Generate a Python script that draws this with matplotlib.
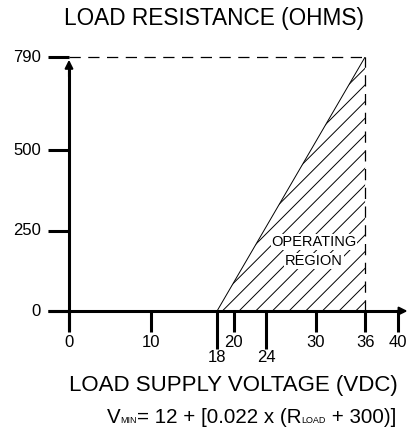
import matplotlib
matplotlib.use("Agg")
import matplotlib.pyplot as plt
from matplotlib.patches import Polygon

plt.rcParams['font.family'] = ['Liberation Sans', 'DejaVu Sans']
plt.rcParams['hatch.linewidth'] = 0.7

# data
v_min = 18
v_max = 36
r_max = 790
x_ticks = [0, 10, 20, 30, 36, 40]
x_ticks_low = [18, 24]
y_ticks = [0, 250, 500, 790]
formula_parts = [('V', False), ('MIN', True), ('= 12 + [0.022 x (R', False),
                 ('LOAD', True), (' + 300)]', False)]

fig = plt.figure(figsize=(4.12, 4.29), dpi=100)
ax = fig.add_axes([69 / 412, 118 / 429, 329 / 412, 254 / 429])
ax.set_xlim(0, 40)
ax.set_ylim(0, r_max)
ax.axis('off')

# operating region
region = Polygon([(v_min, 0), (v_max, r_max), (v_max, 0)], closed=True,
                 facecolor='none', edgecolor='black', hatch='//', linewidth=0)
ax.add_patch(region)
ax.plot([v_min, v_max], [0, r_max], color='black', lw=0.7)

# dashed limits
ax.plot([0, v_max], [r_max, r_max], color='black', lw=0.9, dashes=(9, 6), clip_on=False)
ax.plot([v_max, v_max], [0, r_max], color='black', lw=0.9, dashes=(9, 6), clip_on=False)

# axes with arrows
ax.plot([-2.6, 40.6], [0, 0], color='black', lw=2.2, clip_on=False, solid_capstyle='butt')
ax.plot([0, 0], [-62, 760], color='black', lw=2.2, clip_on=False, solid_capstyle='butt')
ax.annotate('', xy=(41.5, 0), xytext=(39.5, 0),
            arrowprops=dict(arrowstyle='-|>', color='black', lw=1.5, mutation_scale=12),
            annotation_clip=False)
ax.annotate('', xy=(0, r_max), xytext=(0, 720),
            arrowprops=dict(arrowstyle='-|>', color='black', lw=1.5, mutation_scale=12),
            annotation_clip=False)

# ticks
for y in y_ticks:
    ax.plot([-2.6, 0], [y, y], color='black', lw=2.2, clip_on=False, solid_capstyle='butt')
    ax.text(-3.4, y, str(y), ha='right', va='center', fontsize=12)
for x in x_ticks:
    ax.plot([x, x], [0, -65], color='black', lw=2.2, clip_on=False, solid_capstyle='butt')
    ax.text(x, -97, str(x), ha='center', va='center', fontsize=12)
for x in x_ticks_low:
    ax.plot([x, x], [0, -118], color='black', lw=2.2, clip_on=False, solid_capstyle='butt')
    ax.text(x, -145, str(x), ha='center', va='center', fontsize=12)

ax.text(29.8, 214, 'OPERATING', ha='center', va='center', fontsize=10.5,
        bbox=dict(facecolor='white', edgecolor='none', pad=0.5))
ax.text(29.8, 156, 'REGION', ha='center', va='center', fontsize=10.5,
        bbox=dict(facecolor='white', edgecolor='none', pad=0.5))

fig.text(214 / 412, 1 - 19 / 429, 'LOAD RESISTANCE (OHMS)', ha='center', va='center', fontsize=16.3)
fig.text(233 / 412, 1 - 385 / 429, 'LOAD SUPPLY VOLTAGE (VDC)', ha='center', va='center', fontsize=16)

# formula with small subscripts, laid out piece by piece
renderer = fig.canvas.get_renderer()
x_px = 107
y_base = 429 - 423
for s, small in formula_parts:
    t = fig.text(x_px / 412, y_base / 429, s, ha='left', va='baseline',
                 fontsize=6.5 if small else 14.8)
    x_px += t.get_window_extent(renderer).width

fig.savefig('out.png', dpi=100)
